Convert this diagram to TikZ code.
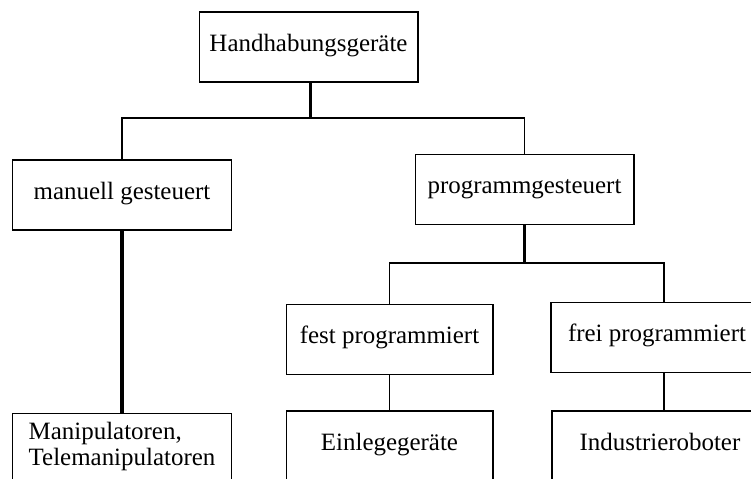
\documentclass[tikz,border=0pt]{standalone}
\usepackage{fontspec}
\setmainfont{Liberation Serif}
\usetikzlibrary{calc}
\newcommand\boxfont{\fontsize{18.7}{19.5}\selectfont\setlength{\lineskiplimit}{-20pt}}

\begin{document}
\begin{tikzpicture}[x=0.75pt, y=-0.75pt,
        box/.style={draw, line width=1pt, minimum height=52.5pt, inner sep=0pt,
            text height=0.66em, text depth=0pt, font=\boxfont},
        stem/.style={line width=2.4pt},
        bar/.style={line width=1.3pt}]
        \useasboundingbox (0, 0) rectangle (751, 479);
        \clip (0, 0) rectangle (751, 479);
        \node[box, minimum width=164pt] (hg) at (308.5, 47) {Handhabungsgeräte};
        \node[box, minimum width=164pt] (man) at (122, 195) {manuell gesteuert};
        \node[box, minimum width=164pt] (prog) at (524.5, 189.5) {programmgesteuert};
        \node[box, minimum width=155pt] (fest) at (389.5, 339.5) {fest programmiert};
        \node[box, minimum width=159pt] (frei) at (657, 337.5) {frei programmiert};
        \node[box, minimum width=164pt, align=left, text height=0.66em+19.5pt] (mani)
            at (122, 448.5) {Manipulatoren,\\Telemanipulatoren};
        \node[box, minimum width=155pt] (einl) at (389.5, 446) {Einlegegeräte};
        \node[box, minimum width=162pt] (ind) at (660, 446) {Industrieroboter};
        \coordinate (j1) at (310.5, 118);
        \coordinate (j2) at (524.5, 263);
        \draw[stem] (hg.south -| j1) -- (j1);
        \draw[bar] (j1) -| (man.north);
        \draw[bar] (j1) -| (prog.north);
        \draw[stem] (prog) -- (j2);
        \draw[bar] (j2) -| (fest.north);
        \draw[bar] (j2) -| ($(frei.north)+(7, 0)$);
        \draw[stem] (man) -- (mani);
        \draw[bar] (fest) -- (einl);
        \draw[bar] ($(frei.south)+(7, 0)$) -- ($(ind.north)+(4, 0)$);
    \end{tikzpicture}
\end{document}
